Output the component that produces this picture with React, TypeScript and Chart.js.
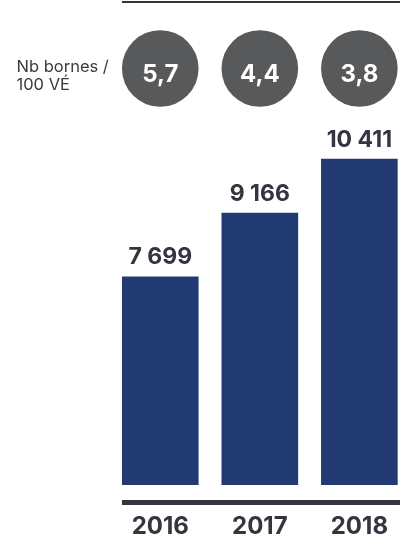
import React, { useEffect, useRef } from "react";
import { Chart, registerables } from "chart.js";

Chart.register(...registerables);

const years = ["2016", "2017", "2018"];
const chargePoints = [7699, 9166, 10411];
const valueLabels = ["7 699", "9 166", "10 411"];
const ratioLabels = ["5,7", "4,4", "3,8"];
const ratioTitle = ["Nb bornes /", "100 VÉ"];
const yMin = 2900;
const yMax = 11300;

const NAVY = "#223a72";
const DARK = "#33353f";
const GREY = "#58595b";
const FONT = "Inter, 'Open Sans', sans-serif";

const overlay = {
  id: "overlay",
  afterDatasetsDraw(chart: any) {
    const { ctx, chartArea } = chart;
    const meta = chart.getDatasetMeta(0);
    const bars = meta.data as any[];
    ctx.save();
    const first = bars[0];
    const left = first.x - first.width / 2;
    ctx.fillStyle = DARK;
    // top rule
    ctx.fillRect(left, 1, chartArea.right - left, 2);
    // baseline rule
    ctx.fillRect(left, chartArea.bottom + 15, chartArea.right - left, 5);
    // value labels
    ctx.font = `700 23px ${FONT}`;
    ctx.textAlign = "center";
    ctx.textBaseline = "alphabetic";
    bars.forEach((bar, i) => {
      ctx.fillStyle = DARK;
      ctx.fillText(valueLabels[i], bar.x, bar.y - 12);
    });
    // circles
    ctx.font = `700 24px ${FONT}`;
    bars.forEach((bar, i) => {
      const r = bar.width / 2;
      ctx.beginPath();
      ctx.arc(bar.x, 68.5, r, 0, Math.PI * 2);
      ctx.fillStyle = GREY;
      ctx.fill();
      ctx.fillStyle = "#ffffff";
      ctx.fillText(ratioLabels[i], bar.x, 82);
    });
    // title
    ctx.font = `400 16.5px ${FONT}`;
    ctx.fillStyle = "#3a3a3a";
    ctx.textAlign = "left";
    ctx.fillText(ratioTitle[0], 16.5, 72);
    ctx.fillText(ratioTitle[1], 16.5, 89.5);
    ctx.restore();
  },
};

export default function App() {
  const ref = useRef<HTMLCanvasElement>(null);
  useEffect(() => {
    if (!ref.current) return;
    const chart = new Chart(ref.current, {
      type: "bar",
      data: {
        labels: years,
        datasets: [
          {
            data: chargePoints,
            backgroundColor: NAVY,
            barPercentage: 0.77,
            categoryPercentage: 1,
          },
        ],
      },
      options: {
        responsive: false,
        animation: false,
        devicePixelRatio: 1,
        layout: { padding: { left: 110.5, right: 0, top: 120, bottom: 0 } },
        plugins: { legend: { display: false }, tooltip: { enabled: false } },
        scales: {
          x: {
            grid: { display: false, drawTicks: false },
            border: { display: false },
            ticks: {
              color: DARK,
              padding: 30,
              font: { family: FONT, size: 24, weight: "bold", lineHeight: 1 },
            },
          },
          y: {
            display: false,
            min: yMin,
            max: yMax,
          },
        },
      },
      plugins: [overlay],
    });
    return () => chart.destroy();
  }, []);
  return (
    <div
      style={{
        position: "fixed",
        left: 0,
        top: 0,
        width: 400,
        height: 539,
        overflow: "hidden",
        background: "#fff",
      }}
    >
      <canvas ref={ref} width={418} height={569} style={{ width: 418, height: 569, display: "block" }} />
    </div>
  );
}
